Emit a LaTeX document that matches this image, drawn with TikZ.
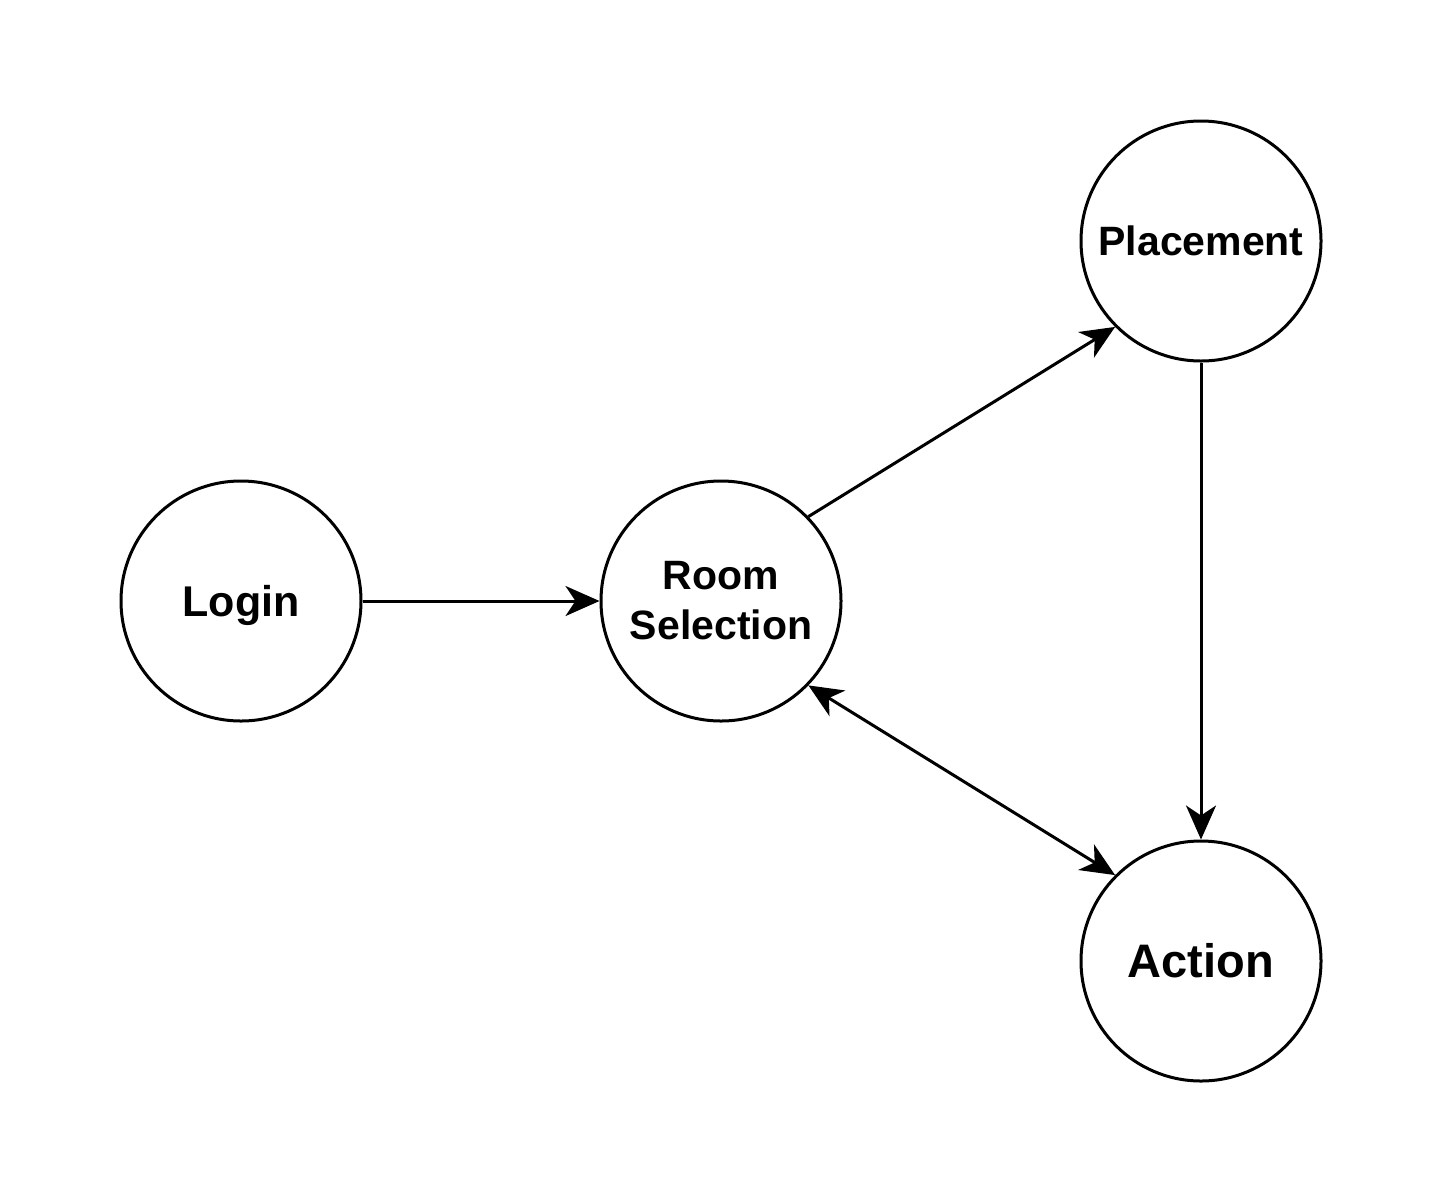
\documentclass[tikz,border=0pt]{standalone}
\usepackage{fontspec}
\setmainfont{Liberation Sans}
\usetikzlibrary{arrows.meta}
\begin{document}
\begin{tikzpicture}[x=1pt,y=-1pt,
  state/.style={circle,draw=black,line width=3pt,minimum size=240pt,inner sep=0pt,font=\bfseries,align=center},
  conn/.style={line width=3pt,-{Stealth[length=34pt,width=30pt,inset=10pt]}},
  bconn/.style={line width=3pt,{Stealth[length=34pt,width=30pt,inset=10pt]}-{Stealth[length=34pt,width=30pt,inset=10pt]}}]
\fill[white] (0,0) rectangle (1443,1203);
\useasboundingbox (0,0) rectangle (1443,1203);
\node[state] (login) at (241,601) {};
\node[font=\bfseries\fontsize{43}{50}\selectfont] (logintxt) at (241,605) {Login};
\node[state,font=\bfseries\fontsize{41}{50}\selectfont] (room) at (721,601) {Room\\Selection};
\node[state,font=\bfseries\fontsize{41}{50}\selectfont] (place) at (1201,241) {Placement};
\node[state,font=\bfseries\fontsize{47}{54}\selectfont] (action) at (1201,961) {Action};
\draw[conn] (login.east) -- (room.west);
\draw[conn] (room.44) -- (place.225);
\draw[conn] (place.south) -- (action.north);
\draw[bconn] (room.-44) -- (action.135);
\end{tikzpicture}
\end{document}
